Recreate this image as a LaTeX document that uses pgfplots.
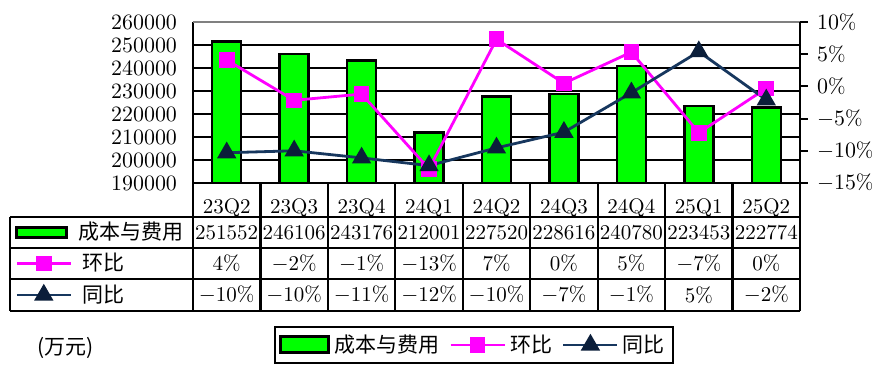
\documentclass[border=0pt]{standalone}
\usepackage{pgfplots}
\pgfplotsset{compat=1.18}
\usepackage{pgfplotstable}
\usepackage{fontspec}
\newfontfamily\cjk{Noto Sans CJK SC}
\definecolor{barg}{HTML}{00FF00}
\definecolor{mag}{HTML}{FF00FF}
\definecolor{nav}{HTML}{17375E}
\definecolor{navd}{HTML}{0B1E3A}

\pgfplotstableread{
x cost qoq yoy
0 251552 4.1 -10.3
1 246106 -2.16 -10.0
2 243176 -1.19 -11.1
3 212001 -12.82 -12.3
4 227520 7.32 -9.55
5 228616 0.48 -7.11
6 240780 5.32 -0.99
7 223453 -7.20 5.40
8 222774 -0.30 -2.09
}\data

\pgfplotsset{
  linelegend/.style={legend image code/.code={\draw[mark repeat=2,mark phase=2,##1] plot coordinates {(0pt,0pt)(13.5pt,0pt)(27pt,0pt)};}},
}

\begin{document}
\begin{tikzpicture}[font=\fontsize{10.5pt}{12pt}\selectfont]
\useasboundingbox[fill=white] (-96.5pt,-100.5pt) rectangle (340.5pt,91.5pt);
\begin{axis}[name=main,
 at={(0pt,0pt)}, anchor=south west,
 scale only axis, width=303.5pt, height=80.5pt,
 xmin=-0.5, xmax=8.5, ymin=190000, ymax=260000,
 axis y line*=left, axis x line*=bottom,
 axis line style={line width=1.1pt, -},
 xtick=data, xticklabels={23Q2,23Q3,23Q4,24Q1,24Q2,24Q3,24Q4,25Q1,25Q2},
 x tick style={draw=none},
 xticklabel style={anchor=center, yshift=-8.5pt},
 ytick={190000,200000,...,260000},
 scaled y ticks=false,
 y tick style={draw=none},
 yticklabel style={/pgf/number format/fixed,/pgf/number format/set thousands separator={},xshift=-4.5pt},
 ymajorgrids, major grid style={black, line width=1.1pt},
 ybar, bar width=14.5pt,
]
\addplot[fill=barg, draw=black, line width=1.2pt] table[x=x,y=cost]{\data};
\end{axis}
\draw[gray, line width=1pt] (main.north west) -- (main.north east);

\begin{axis}[
 at={(0pt,0pt)}, anchor=south west,
 scale only axis, width=303.5pt, height=80.5pt,
 xmin=-0.5, xmax=8.5, ymin=-15, ymax=10,
 axis y line*=right, axis x line=none,
 axis line style={line width=1.1pt, -},
 ytick={-15,-10,...,10}, tick align=outside, major tick length=4pt,
 y tick style={black, line width=1pt},
 yticklabel={\pgfmathprintnumber{\tick}\%},
 yticklabel style={xshift=1pt},
 clip=false,
 legend columns=3,
 legend style={at={(0.463,-1.006)}, anchor=center, draw=black, line width=1pt,
   font=\cjk\fontsize{10.5pt}{12pt}\selectfont, inner sep=2pt,
   /tikz/every even column/.append style={column sep=3pt}},
]
\addlegendimage{legend image code/.code={\draw[fill=barg,draw=black,line width=1.5pt] (0pt,-4pt) rectangle (24pt,4pt);}}
\addplot[mag, line width=1.4pt, mark=square*, mark size=3.2pt, mark options={fill=mag, draw=mag, solid}, linelegend] table[x=x,y=qoq]{\data};
\addplot[nav, line width=1.4pt, mark=triangle*, mark size=4.2pt, mark options={fill=navd, draw=navd, solid}, linelegend] table[x=x,y=yoy]{\data};
\legend{成本与费用,环比,同比}
\end{axis}

% table row icons
\begin{axis}[at={(-89pt,-24.75pt)}, anchor=west, hide axis, scale only axis, width=1pt, height=1pt,
 xmin=0,xmax=1,ymin=0,ymax=1,
 legend style={at={(0,0.5)}, anchor=west, draw=none, fill=none, inner sep=0pt,
  font=\cjk\fontsize{10.5pt}{12pt}\selectfont, /tikz/every odd column/.append style={column sep=3pt}}]
\addlegendimage{legend image code/.code={\draw[fill=barg,draw=black,line width=1.5pt] (0pt,-2.5pt) rectangle (25pt,2.5pt);}}
\addlegendentry{成本与费用}
\end{axis}
\begin{axis}[at={(-89pt,-40.25pt)}, anchor=west, hide axis, scale only axis, width=1pt, height=1pt,
 xmin=0,xmax=1,ymin=0,ymax=1,
 legend style={at={(0,0.5)}, anchor=west, draw=none, fill=none, inner sep=0pt,
  font=\cjk\fontsize{10.5pt}{12pt}\selectfont, /tikz/every odd column/.append style={column sep=3pt}}]
\addlegendimage{mag, line width=1.4pt, mark=square*, mark size=3.2pt, mark options={fill=mag, draw=mag, solid}, linelegend}
\addlegendentry{环比}
\end{axis}
\begin{axis}[at={(-89pt,-56pt)}, anchor=west, hide axis, scale only axis, width=1pt, height=1pt,
 xmin=0,xmax=1,ymin=0,ymax=1,
 legend style={at={(0,0.5)}, anchor=west, draw=none, fill=none, inner sep=0pt,
  font=\cjk\fontsize{10.5pt}{12pt}\selectfont, /tikz/every odd column/.append style={column sep=3pt}}]
\addlegendimage{nav, line width=1.4pt, mark=triangle*, mark size=4.2pt, mark options={fill=navd, draw=navd, solid}, linelegend}
\addlegendentry{同比}
\end{axis}

% table grid
\begin{scope}[line width=1.1pt]
\foreach \k in {0,...,9} \draw ({\k*33.7222pt},0pt) -- ({\k*33.7222pt},-64pt);
\draw (-91.5pt,-17pt) -- (-91.5pt,-64pt);
\foreach \yy in {-17,-32.5,-48,-64} \draw (-91.5pt,\yy pt) -- (303.5pt,\yy pt);
\end{scope}
\foreach \v [count=\i from 0] in {251552,246106,243176,212001,227520,228616,240780,223453,222774}
  \node at ({(\i+0.5)*33.7222pt},-24.75pt) {\v};
\foreach \v [count=\i from 0] in {4\%,$-$2\%,$-$1\%,$-$13\%,7\%,0\%,5\%,$-$7\%,0\%}
  \node at ({(\i+0.5)*33.7222pt},-40.25pt) {\v};
\foreach \v [count=\i from 0] in {$-$10\%,$-$10\%,$-$11\%,$-$12\%,$-$10\%,$-$7\%,$-$1\%,5\%,$-$2\%}
  \node at ({(\i+0.5)*33.7222pt},-56pt) {\v};
\node[font=\cjk\fontsize{10.5pt}{12pt}\selectfont] at (-63.5pt,-82.5pt) {(万元)};
\end{tikzpicture}
\end{document}
